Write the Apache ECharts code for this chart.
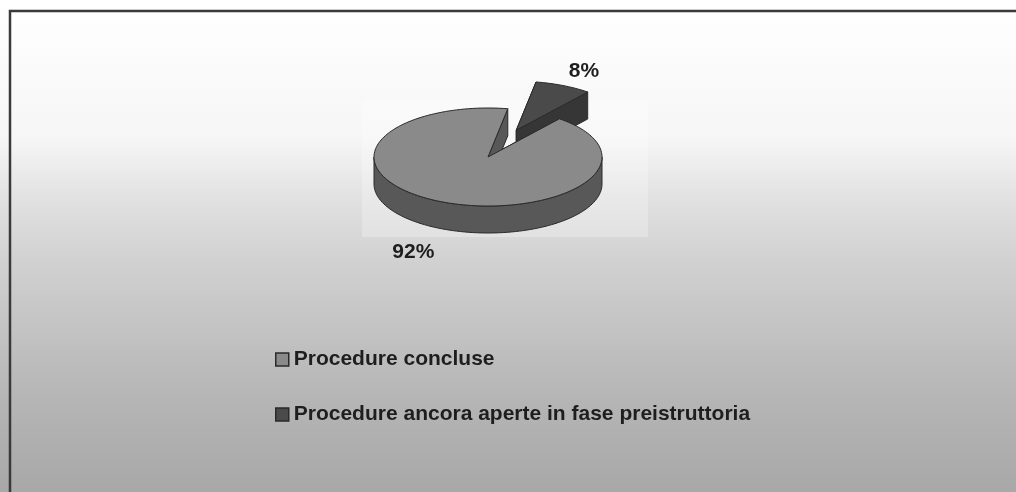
<!DOCTYPE html>
<html>
<head>
<meta charset="utf-8">
<script src="https://cdn.jsdelivr.net/npm/echarts@6/dist/echarts.min.js"></script>
<style>
  html, body { margin: 0; padding: 0; background: #fff; }
  #chart { width: 1016px; height: 492px; }
</style>
</head>
<body>
<div id="chart"></div>
<script>
// data
const categories = ['Procedure concluse', 'Procedure ancora aperte in fase preistruttoria']
const values = [92, 8]
const topColors = ['#8a8a8a', '#4a4a4a']
const sideColors = ['#585858', '#363636']

// 3d pie geometry
const cx = 488, cy = 157, rx = 114, ry = 49, depth = 27
const startAngle = 80
const explode = [0, 0.6]
const labelShift = [[-4, 3], [-3, 6]]

const total = values.reduce((a, b) => a + b, 0)
const slices = []
let acc = startAngle
values.forEach((v, i) => {
  const span = 360 * v / total
  slices.push({ a0: acc, a1: acc + span })
  acc += span
})

const rad = d => d * Math.PI / 180

function renderSlice (idx) {
  const s = slices[idx]
  const mid = rad((s.a0 + s.a1) / 2)
  const ox = Math.cos(mid) * rx * explode[idx]
  const oy = -Math.sin(mid) * ry * explode[idx]
  const c = [cx + ox, cy + oy]
  const rim = (a, dy) => [c[0] + rx * Math.cos(rad(a)), c[1] - ry * Math.sin(rad(a)) + (dy || 0)]
  const arc = (from, to, dy) => {
    const pts = []
    const n = Math.max(2, Math.ceil(Math.abs(to - from) / 2))
    for (let k = 0; k <= n; k++) pts.push(rim(from + (to - from) * k / n, dy))
    return pts
  }
  const stroke = { stroke: '#2a2a2a', lineWidth: 1, lineJoin: 'round' }
  const side = sideColors[idx]
  const children = []

  // radial walls, hidden ones first
  const walls = [
    { a: s.a0, n: s.a0 - 90 },
    { a: s.a1, n: s.a1 + 90 }
  ].map(w => ({ a: w.a, visible: Math.sin(rad(w.n)) < 0 }))
  walls.sort((p, q) => (p.visible ? 1 : 0) - (q.visible ? 1 : 0))
  walls.forEach(w => {
    const r = rim(w.a)
    children.push({
      type: 'polygon',
      shape: { points: [c, r, [r[0], r[1] + depth], [c[0], c[1] + depth]] },
      style: Object.assign({ fill: side }, stroke)
    })
  })

  // outer wall for the front half
  for (let k = -1; k <= 2; k++) {
    const lo = Math.max(s.a0, 180 + 360 * k)
    const hi = Math.min(s.a1, 360 + 360 * k)
    if (hi > lo) {
      const pts = arc(lo, hi).concat(arc(hi, lo, depth))
      children.push({ type: 'polygon', shape: { points: pts }, style: Object.assign({ fill: side }, stroke) })
    }
  }

  // top
  children.push({
    type: 'polygon',
    shape: { points: [c].concat(arc(s.a0, s.a1)) },
    style: Object.assign({ fill: topColors[idx] }, stroke)
  })

  // percent label
  const sn = Math.sin(mid)
  children.push({
    type: 'text',
    style: {
      x: c[0] + Math.cos(mid) * rx * 1.5 + labelShift[idx][0],
      y: c[1] - sn * ry * 1.45 + (sn < 0 ? depth : 0) + labelShift[idx][1],
      text: Math.round(values[idx] / total * 100) + '%',
      fill: '#1e1e1e',
      font: 'bold 21px "Liberation Sans", Arial, sans-serif',
      align: 'center',
      verticalAlign: 'middle'
    }
  })

  return { type: 'group', children }
}

const chart = echarts.init(document.getElementById('chart'))

// back slice first so the big one overlaps it
const drawOrder = [1, 0]

chart.setOption({
  backgroundColor: new echarts.graphic.LinearGradient(0, 0, 0, 1, [
    { offset: 0, color: '#ffffff' },
    { offset: 0.28, color: '#f6f6f6' },
    { offset: 0.4, color: '#e2e2e2' },
    { offset: 0.52, color: '#d2d2d2' },
    { offset: 0.66, color: '#c4c4c4' },
    { offset: 0.8, color: '#b6b6b6' },
    { offset: 1, color: '#a8a8a8' }
  ]),
  animation: false,
  graphic: [
    {
      type: 'rect',
      shape: { x: 362, y: 100, width: 286, height: 137 },
      style: { fill: 'rgba(255,255,255,0.25)' },
      z: -1
    },
    {
      type: 'rect',
      shape: { x: 10, y: 11, width: 1020, height: 500 },
      style: { fill: 'none', stroke: '#3a3a3a', lineWidth: 2.5 }
    }
  ],
  legend: {
    orient: 'vertical',
    left: 275,
    top: 349,
    padding: 0,
    itemWidth: 13,
    itemHeight: 13,
    itemGap: 34,
    selectedMode: false,
    icon: 'rect',
    textStyle: {
      fontSize: 21,
      fontWeight: 'bold',
      color: '#1e1e1e',
      fontFamily: '"Liberation Sans", Arial, sans-serif'
    },
    data: categories.map((name, i) => ({
      name,
      itemStyle: { color: topColors[i], borderColor: '#2a2a2a', borderWidth: 1.5 }
    }))
  },
  series: drawOrder.map(i => ({
    type: 'custom',
    name: categories[i],
    coordinateSystem: 'none',
    itemStyle: { color: topColors[i] },
    data: [[values[i]]],
    renderItem: () => renderSlice(i)
  }))
})
</script>
</body>
</html>
